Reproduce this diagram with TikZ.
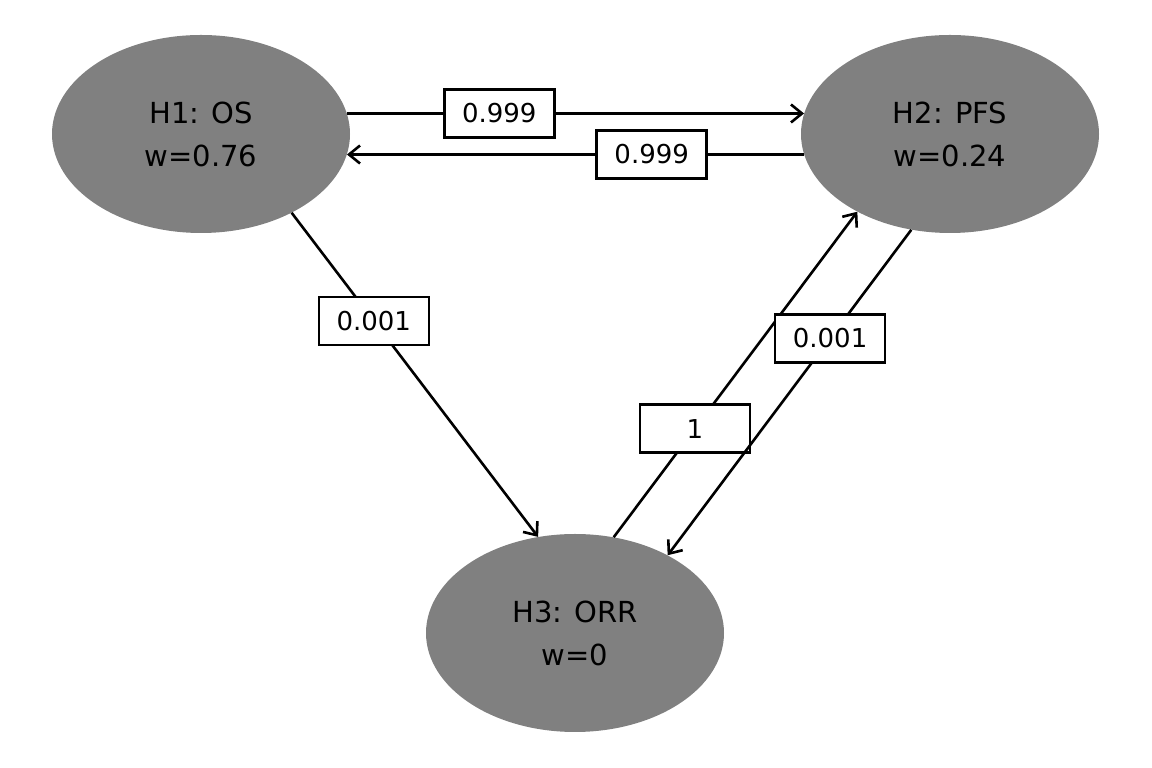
\documentclass[tikz,border=0pt]{standalone}
\usepackage{fontspec}
\setmainfont{DejaVu Sans}
\usetikzlibrary{arrows.meta,shapes.geometric}
\definecolor{hypgray}{RGB}{128,128,128}
\begin{document}
\begin{tikzpicture}[x=1pt,y=1pt,
  hyp/.style={ellipse, fill=hypgray, minimum width=298pt, minimum height=198pt, inner sep=0pt, align=center, font=\fontsize{29}{43}\selectfont},
  wlab/.style={draw, fill=white, line width=2.6pt, minimum width=110pt, minimum height=48pt, inner sep=0pt, font=\fontsize{26}{30}\selectfont},
  edge/.style={line width=2.6pt, -{Straight Barb[length=11pt,width=18pt]}}]
\useasboundingbox (0,0) rectangle (1152,768);
\node[hyp] (h1) at (201,634) {H1: OS\\w=0.76};
\node[hyp] (h2) at (950,634) {H2: PFS\\w=0.24};
\node[hyp] (h3) at (575,135) {H3: ORR\\w=0};
\draw[edge] (h1.8) -- node[wlab,pos=1/3]{0.999} (h2.172);
\draw[edge] (h2.188) -- node[wlab,pos=1/3]{0.999} (h1.-8);
\draw[edge] (h1.-41) -- node[wlab,pos=1/3]{0.001} (h3.111);
\draw[edge] (h3.68) -- node[wlab,pos=1/3]{1} (h2.-140);
\draw[edge] (h2.-112) -- node[wlab,pos=1/3]{0.001} (h3.40);
\end{tikzpicture}
\end{document}
